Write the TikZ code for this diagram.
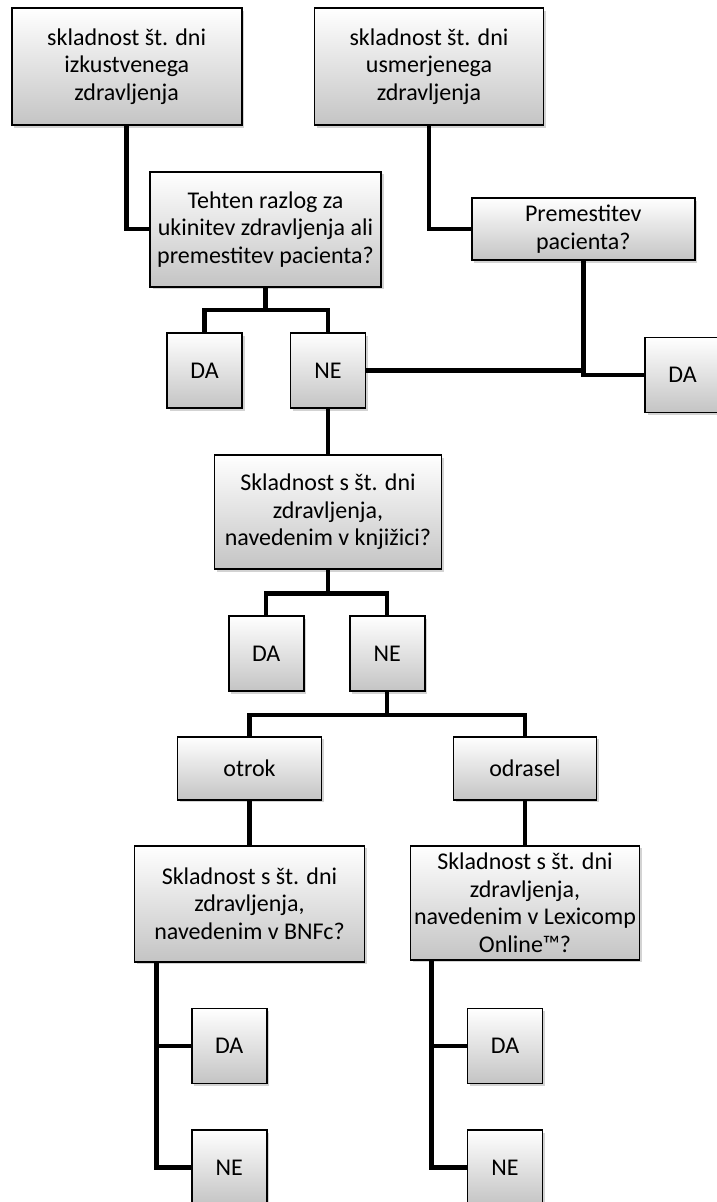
\documentclass[tikz,border=0pt]{standalone}
\usepackage{fontspec}
\setmainfont{Carlito}
\usepackage{tikz}
\usetikzlibrary{positioning,shadows}
\definecolor{sivaDno}{HTML}{C4C4C4}

\begin{document}
\begin{tikzpicture}[x=1pt,y=-1pt,
  okvir/.style={draw=black,line width=1.6pt,top color=white,bottom color=sivaDno,
    drop shadow={shadow xshift=2.5pt,shadow yshift=-2.5pt,opacity=0.35},
    align=center,inner sep=2pt,font=\fontsize{24}{27.5}\selectfont},
  kvadrat/.style={okvir,minimum width=75pt,minimum height=75pt},
  povezava/.style={line width=4.5pt,black}]
\useasboundingbox (0,0) rectangle (717,1202);
\node[okvir,minimum width=230pt,minimum height=117pt] (izk) at (126.7,66.7)
  {skladnost št. dni\\izkustvenega\\zdravljenja};
\node[okvir,minimum width=229pt,minimum height=117pt] (usm) at (429,66.7)
  {skladnost št. dni\\usmerjenega\\zdravljenja};
\node[okvir,minimum width=231pt,minimum height=115pt] (teh) at (265.5,229.2)
  {Tehten razlog za\\ukinitev zdravljenja ali\\premestitev pacienta?};
\node[okvir,minimum width=223pt,minimum height=62pt] (prem) at (583.3,229.2)
  {Premestitev\\pacienta?};
\node[kvadrat] (da1) at (204.5,370.5) {DA};
\node[kvadrat] (ne1) at (328,370.5) {NE};
\node[kvadrat] (daD) at (682.5,375) {DA};
\node[okvir,minimum width=227pt,minimum height=114pt] (skl) at (328,512.2)
  {Skladnost s št. dni\\zdravljenja,\\navedenim v knjižici?};
\node[kvadrat] (da2) at (266.2,653.5) {DA};
\node[kvadrat] (ne2) at (387.2,653.5) {NE};
\node[okvir,minimum width=144pt,minimum height=63pt] (otrok) at (249.5,768.3) {otrok};
\node[okvir,minimum width=143pt,minimum height=63pt] (odrasel) at (525,768.3) {odrasel};
\node[okvir,minimum width=230pt,minimum height=116pt] (bnfc) at (249.5,903.7)
  {Skladnost s št. dni\\zdravljenja,\\navedenim v BNFc?};
\node[okvir,minimum width=229pt,minimum height=114pt] (lexi) at (525,902.8)
  {Skladnost s št. dni\\zdravljenja,\\navedenim v Lexicomp\\Online™?};
\node[kvadrat] (da3) at (229.2,1045.8) {DA};
\node[kvadrat] (ne3) at (229.2,1167.5) {NE};
\node[kvadrat] (da4) at (505,1045.8) {DA};
\node[kvadrat] (ne4) at (505,1167.5) {NE};

\draw[povezava] (izk.south) |- (teh.west);
\draw[povezava] (usm.south) |- (prem.west);
\coordinate (razcep1) at (265.5,310);
\draw[povezava] (teh.south) -- (razcep1);
\draw[povezava] (da1.north) |- (razcep1) -| (ne1.north);
\draw[povezava] (ne1.east) -- (ne1.east -| prem.south);
\draw[povezava] (prem.south) |- (daD.west);
\draw[povezava] (ne1.south) -- (skl.north);
\coordinate (razcep2) at (328,593.3);
\draw[povezava] (skl.south) -- (razcep2);
\draw[povezava] (da2.north) |- (razcep2) -| (ne2.north);
\coordinate (razcep3) at (387.2,715);
\draw[povezava] (ne2.south) -- (razcep3);
\draw[povezava] (otrok.north) |- (razcep3) -| (odrasel.north);
\draw[povezava] (otrok.south) -- (bnfc.north);
\draw[povezava] (odrasel.south) -- (lexi.north);
\coordinate (vejaB) at ([xshift=23pt]bnfc.south west);
\coordinate (vejaL) at ([xshift=22pt]lexi.south west);
\draw[povezava] (vejaB) |- (da3.west);
\draw[povezava] (vejaB) |- (ne3.west);
\draw[povezava] (vejaL) |- (da4.west);
\draw[povezava] (vejaL) |- (ne4.west);
\end{tikzpicture}
\end{document}
